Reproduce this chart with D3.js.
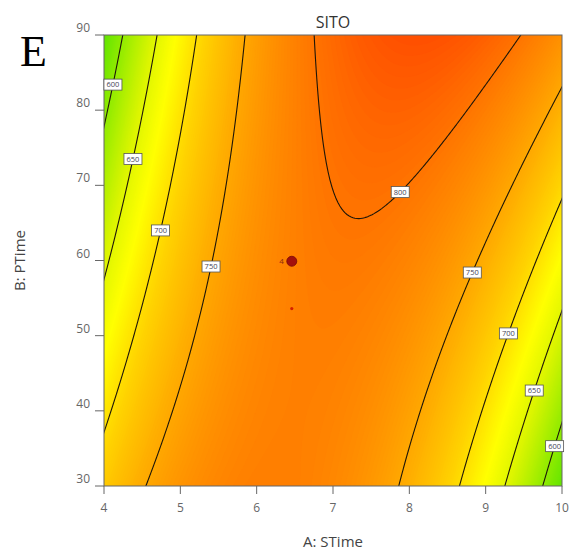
<!DOCTYPE html>
<html>
<head>
<meta charset="utf-8">
<script src="https://cdn.jsdelivr.net/npm/d3@7"></script>
<style>
  body { margin: 0; background: #fff; }
  text { font-family: "Open Sans", sans-serif; }
</style>
</head>
<body>
<div id="chart"></div>
<script>
// axis ticks
var aTicks = [4, 5, 6, 7, 8, 9, 10];
var bTicks = [30, 40, 50, 60, 70, 80, 90];

// fitted quadratic model in coded units (A: 4..10 -> -1..1, B: 30..90 -> -1..1)
var modelTerms = ["Intercept", "A", "B", "AB", "A^2", "B^2"];
var modelCoefs = [795.8, 14.3, 13.5, 87.3, -137.7, 0];

// contour lines and their labels (label sits on the line at the given B)
var contourLevels = [600, 650, 700, 750, 800];
var labelLevels = [600, 650, 700, 750, 800, 750, 700, 650, 600];
var labelB = [83.4, 73.5, 64.0, 59.2, 69.1, 58.4, 50.3, 42.7, 35.3];
var labelSide = [-1, -1, -1, -1, 1, 1, 1, 1, 1];

// colour ramp green -> yellow -> red
var colorValues = [565, 605, 645, 675, 710, 750, 790, 810, 830];
var colorHexes = ["#58e400", "#98ec00", "#dcf500", "#ffff00", "#ffd200", "#ffa800", "#ff8000", "#ff6800", "#ff4c00"];

// design points
var designA = [6.46, 6.46];
var designB = [59.9, 53.6];
var designRuns = [4, 1];

var W = 569, H = 557;
var plot = { left: 104, top: 35, right: 562, bottom: 486 };

var svg = d3.select("#chart").append("svg")
    .attr("width", W).attr("height", H);

var x = d3.scaleLinear().domain([4, 10]).range([plot.left, plot.right]);
var y = d3.scaleLinear().domain([30, 90]).range([plot.bottom, plot.top]);
var color = d3.scaleLinear().domain(colorValues).range(colorHexes).clamp(true);

function model(A, B) {
    var x1 = (A - 7) / 3, x2 = (B - 60) / 30, c = modelCoefs;
    return c[0] + c[1] * x1 + c[2] * x2 + c[3] * x1 * x2 + c[4] * x1 * x1 + c[5] * x2 * x2;
}

// grid a bit larger than the plot, clipped afterwards
var a0 = 3.95, a1 = 10.05, b0 = 29.5, b1 = 90.5;
var nx = 244, ny = 244;
var dA = (a1 - a0) / nx, dB = (b1 - b0) / ny;
var values = new Array(nx * ny);
for (var j = 0; j < ny; j++) {
    for (var i = 0; i < nx; i++) {
        values[j * nx + i] = model(a0 + (i + 0.5) * dA, b1 - (j + 0.5) * dB);
    }
}

var proj = d3.geoTransform({
    point: function (gx, gy) {
        this.stream.point(x(a0 + gx * dA), y(b1 - gy * dB));
    }
});
var path = d3.geoPath(proj);

svg.append("clipPath").attr("id", "clip")
    .append("rect")
    .attr("x", plot.left).attr("y", plot.top)
    .attr("width", plot.right - plot.left).attr("height", plot.bottom - plot.top);

var g = svg.append("g").attr("clip-path", "url(#clip)");

// filled gradient bands
var bandSteps = d3.range(540, 840, 2);
g.selectAll(".band")
    .data(d3.contours().size([nx, ny]).thresholds(bandSteps)(values))
    .enter().append("path")
    .attr("class", "band")
    .attr("d", path)
    .attr("fill", function (d) { return color(d.value + 1); })
    .attr("stroke", function (d) { return color(d.value + 1); })
    .attr("stroke-width", 0.5);

// black contour lines
g.selectAll(".iso")
    .data(d3.contours().size([nx, ny]).thresholds(contourLevels)(values))
    .enter().append("path")
    .attr("class", "iso")
    .attr("d", path)
    .attr("fill", "none")
    .attr("stroke", "#1e1608")
    .attr("stroke-width", 1.1);

// frame
svg.append("rect")
    .attr("x", plot.left).attr("y", plot.top)
    .attr("width", plot.right - plot.left).attr("height", plot.bottom - plot.top)
    .attr("fill", "none").attr("stroke", "#666").attr("stroke-width", 1);

// contour labels: solve the model for A on the requested side
function solveA(level, B, side) {
    var x2 = (B - 60) / 30, c = modelCoefs;
    var qa = c[4], qb = c[1] + c[3] * x2, qc = c[0] + c[2] * x2 + c[5] * x2 * x2 - level;
    var disc = Math.sqrt(Math.max(0, qb * qb - 4 * qa * qc));
    var r1 = (-qb + disc) / (2 * qa), r2 = (-qb - disc) / (2 * qa);
    var x1 = side < 0 ? Math.min(r1, r2) : Math.max(r1, r2);
    return 7 + 3 * x1;
}

var labs = svg.selectAll(".clabel")
    .data(labelLevels.map(function (lv, k) {
        return { level: lv, A: solveA(lv, labelB[k], labelSide[k]), B: labelB[k] };
    }))
    .enter().append("g")
    .attr("class", "clabel")
    .attr("transform", function (d) { return "translate(" + x(d.A) + "," + y(d.B) + ")"; });
labs.append("rect")
    .attr("x", -9).attr("y", -5.5).attr("width", 18).attr("height", 11)
    .attr("fill", "#fff").attr("stroke", "#555").attr("stroke-width", 0.8);
labs.append("text")
    .attr("text-anchor", "middle").attr("dy", "0.35em")
    .style("font-size", "7.5px").attr("fill", "#445")
    .text(function (d) { return d.level; });

// design points
var pts = svg.selectAll(".dp")
    .data(designA.map(function (a, k) { return { A: a, B: designB[k], n: designRuns[k] }; }))
    .enter().append("g").attr("class", "dp");
pts.append("circle")
    .attr("cx", function (d) { return x(d.A); })
    .attr("cy", function (d) { return y(d.B); })
    .attr("r", function (d) { return d.n > 1 ? 5 : 1.6; })
    .attr("fill", function (d) { return d.n > 1 ? "#a3100c" : "#d42000"; })
    .attr("stroke", function (d) { return d.n > 1 ? "#7a0a06" : "none"; })
    .attr("stroke-width", 0.8);
pts.filter(function (d) { return d.n > 1; }).append("text")
    .attr("x", function (d) { return x(d.A) - 8; })
    .attr("y", function (d) { return y(d.B); })
    .attr("dy", "0.35em").attr("text-anchor", "end")
    .style("font-size", "8px").attr("fill", "#8a2a10")
    .text(function (d) { return d.n; });

// axes
var axisCol = "#666";
svg.selectAll(".xt").data(aTicks).enter().append("line")
    .attr("x1", function (d) { return x(d); }).attr("x2", function (d) { return x(d); })
    .attr("y1", plot.bottom).attr("y2", plot.bottom + 8)
    .attr("stroke", axisCol);
svg.selectAll(".xl").data(aTicks).enter().append("text")
    .attr("x", function (d) { return x(d); }).attr("y", plot.bottom + 26)
    .attr("text-anchor", "middle").style("font-size", "12px").attr("fill", "#666")
    .text(function (d) { return d; });
svg.selectAll(".yt").data(bTicks).enter().append("line")
    .attr("x1", plot.left - 9).attr("x2", plot.left)
    .attr("y1", function (d) { return y(d); }).attr("y2", function (d) { return y(d); })
    .attr("stroke", axisCol);
svg.selectAll(".yl").data(bTicks).enter().append("text")
    .attr("x", plot.left - 14).attr("y", function (d) { return y(d) - 3; })
    .attr("text-anchor", "end").style("font-size", "12px").attr("fill", "#666")
    .text(function (d) { return d; });

// titles
svg.append("text")
    .attr("x", (plot.left + plot.right) / 2).attr("y", 28)
    .attr("text-anchor", "middle").style("font-size", "16px").attr("fill", "#333")
    .text("SITO");
svg.append("text")
    .attr("x", (plot.left + plot.right) / 2).attr("y", 547)
    .attr("text-anchor", "middle").style("font-size", "15px").attr("fill", "#444")
    .text("A: STime");
svg.append("text")
    .attr("transform", "translate(25," + (plot.top + plot.bottom) / 2 + ") rotate(-90)")
    .attr("text-anchor", "middle").style("font-size", "15px").attr("fill", "#444")
    .text("B: PTime");
svg.append("text")
    .attr("x", 20).attr("y", 66)
    .style("font-family", "'Liberation Serif', serif").style("font-size", "44px").attr("fill", "#000")
    .text("E");
</script>
</body>
</html>
